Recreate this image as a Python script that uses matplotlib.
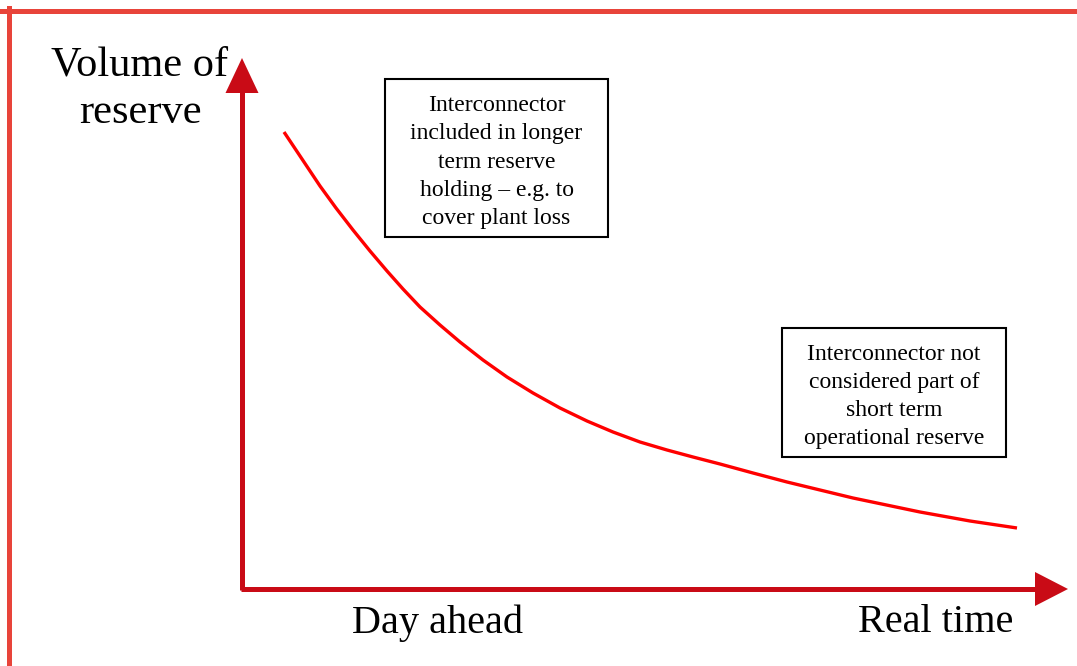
"""Sketch: reserve volume held against interconnector, day ahead -> real time."""

import matplotlib

matplotlib.use("Agg")
import matplotlib.pyplot as plt
from matplotlib.lines import Line2D
from matplotlib.patches import Polygon, Rectangle

# curve (time from day ahead, volume of reserve)
time_pts = [42, 60, 78, 94, 111, 128, 145, 161, 178, 198, 218, 241, 265,
            291, 318, 345, 371, 398, 425, 451, 478, 511, 545, 611, 678,
            728, 775]
volume_pts = [457, 430, 403, 381, 359, 338, 318, 300, 282, 264, 247, 229,
              212, 196, 181, 168, 157, 147, 139, 132, 125, 116, 107, 91,
              77, 68, 61]

y_label = "Volume of\nreserve"
x_start_label = "Day ahead"
x_end_label = "Real time"
note_long = ("Interconnector\nincluded in longer\nterm reserve\n"
             "holding \u2013 e.g. to\ncover plant loss")
note_short = ("Interconnector not\nconsidered part of\nshort term\n"
              "operational reserve")

AXIS_RED = "#c90b16"
FRAME_RED = "#e8443a"
SERIF = ["Liberation Serif", "DejaVu Serif"]

W, H = 1077, 666
ox, oy = 242, 589  # pixel position of the origin

fig = plt.figure(figsize=(W / 100, H / 100), dpi=100)
ax = fig.add_axes([0, 0, 1, 1])
ax.set_xlim(-ox, W - ox)
ax.set_ylim(oy - H, oy)
ax.axis("off")

# frame round the slide (top and left edges)
fig.add_artist(Line2D([0, 1], [1 - 10.5 / H, 1 - 10.5 / H],
                      transform=fig.transFigure, color=FRAME_RED, lw=3.6))
fig.add_artist(Line2D([8.5 / W, 8.5 / W], [0, 1 - 8 / H],
                      transform=fig.transFigure, color=FRAME_RED, lw=3.6))

# axes with arrow heads
ax.plot([0, 0], [-1, 500], color=AXIS_RED, lw=3.6, solid_capstyle="butt")
ax.plot([-1, 795], [0, 0], color=AXIS_RED, lw=3.6, solid_capstyle="butt")
ax.add_patch(Polygon([[-16.5, 496], [16.5, 496], [0, 531]], closed=True,
                     color=AXIS_RED, lw=0))
ax.add_patch(Polygon([[793, 17], [793, -17], [826, 0]], closed=True,
                     color=AXIS_RED, lw=0))

ax.plot(time_pts, volume_pts, color="#ff0000", lw=2.4,
        solid_capstyle="butt", solid_joinstyle="round")

ax.text(140 - ox, oy - 89, y_label, ha="center", va="center",
        fontsize=30.5, family=SERIF, linespacing=1.33)
ax.text(438 - ox, oy - 623, x_start_label, ha="center", va="center",
        fontsize=29, family=SERIF)
ax.text(936 - ox, oy - 623, x_end_label, ha="center", va="center",
        fontsize=29, family=SERIF)

# annotation boxes
for (x0, y0, x1, y1), note in [((385, 79, 608, 237), note_long),
                               ((782, 328, 1006, 457), note_short)]:
    ax.add_patch(Rectangle((x0 - ox, oy - y1), x1 - x0, y1 - y0,
                           facecolor="white", edgecolor="black", lw=1.5))
    ax.text((x0 + x1) / 2 - ox, oy - (y0 + y1) / 2 - 4, note, ha="center",
            va="center", fontsize=17, family=SERIF, linespacing=1.44)

fig.savefig("out.png", dpi=100)
